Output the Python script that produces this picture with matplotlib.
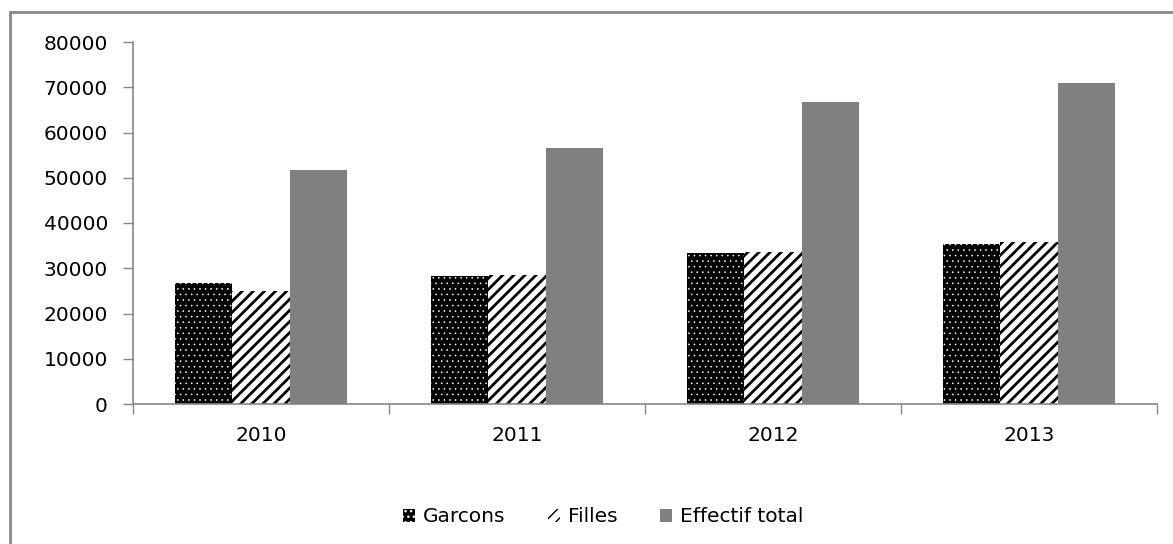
import numpy as np
import matplotlib.pyplot as plt
from matplotlib.patches import Rectangle
from matplotlib.ticker import FixedLocator

annees = ['2010', '2011', '2012', '2013']
garcons = [26700, 28300, 33300, 35300]
filles = [25000, 28500, 33500, 35700]
effectif_total = [51700, 56600, 66700, 71000]

plt.rcParams['font.family'] = ['DejaVu Sans']
gris = '#878787'

fig = plt.figure(figsize=(11.73, 5.44), dpi=100)
ax = fig.add_axes([133 / 1173, 1 - 404 / 544, 1024 / 1173, 362 / 544])

x = np.arange(len(annees))
w = 0.224

b1 = ax.bar(x - w, garcons, w, color='black', edgecolor='white', linewidth=0,
            hatch='...', label='Garcons')
b2 = ax.bar(x, filles, w, color='white', edgecolor='black', linewidth=0,
            hatch='///', label='Filles')
ax.bar(x + w, effectif_total, w, color='#808080', linewidth=0,
       label='Effectif total')
for p in b1:
    p.set_hatch_linewidth(0.4)
for p in b2:
    p.set_hatch_linewidth(2.0)

ax.set_xlim(-0.5, 3.5)
ax.set_ylim(0, 80000)
ax.set_yticks(np.arange(0, 80001, 10000))
ax.set_xticks(x)
ax.set_xticklabels(annees)
ax.xaxis.set_minor_locator(FixedLocator(np.arange(-0.5, 3.6, 1)))

for s in ['top', 'right']:
    ax.spines[s].set_visible(False)
for s in ['left', 'bottom']:
    ax.spines[s].set_color(gris)
    ax.spines[s].set_linewidth(1.2)

ax.tick_params(axis='y', length=7, color=gris, width=1, pad=11, labelsize=14.5)
ax.tick_params(axis='x', which='major', length=0, pad=16, labelsize=14.5)
ax.tick_params(axis='x', which='minor', length=7, color=gris, width=1)

leg = fig.legend(loc='center', bbox_to_anchor=(603 / 1173, 1 - 517 / 544),
                 ncol=3, frameon=False, fontsize=14.5, handlelength=0.6,
                 handleheight=0.6, handletextpad=0.4, columnspacing=2.1)

# cadre extérieur du graphique
fig.patches.append(Rectangle((10 / 1173, -0.1), 1.2, 1 - 12 / 544 + 0.1,
                             transform=fig.transFigure, fill=False,
                             edgecolor=gris, linewidth=2))

fig.savefig('out.png', dpi=100)
